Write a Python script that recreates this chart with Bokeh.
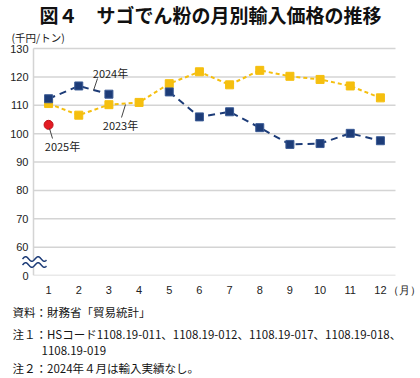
import math
from bokeh.plotting import figure
from bokeh.models import Label, Title, FixedTicker
from bokeh.embed import file_html
from bokeh.resources import INLINE

# ---------------- data ----------------
months = [1, 2, 3, 4, 5, 6, 7, 8, 9, 10, 11, 12]
month_labels = ["1", "2", "3", "4", "5", "6", "7", "8", "9", "10", "11", "12"]
price_2023 = [110.6, 106.5, 110.2, 111.0, 117.6, 121.8, 117.2, 122.3, 120.2, 119.1, 116.8, 112.6]
price_2024 = [112.3, 116.8, 113.9, float("nan"), 114.7, 105.9, 107.7, 102.1, 96.2, 96.5, 100.1, 97.5]
months_2025 = [1]
price_2025 = [103.1]
y_ticks = [50, 60, 70, 80, 90, 100, 110, 120, 130]
y_tick_labels = ["0", "60", "70", "80", "90", "100", "110", "120", "130"]
x_unit = "（月）"

NAVY = "#1d3c78"
YELLOW = "#f5bf0f"
RED = "#e31b23"
GRID = "#d4d4d4"
JP = "Noto Sans CJK JP"
NUM = "Liberation Sans"

# ---------------- layout ----------------
W, H = 420, 378
FL, FR, FT, FB = 6, 420, 0, 275       # frame edges (px)
AL, AR, AT = 33, 395, 48              # plotting area edges (px)
SX = (AR - AL) / 12.0                 # px per month
SY = (FB - AT) / 80.0                 # px per unit

x_start = 0.5 - (AL - FL) / SX
x_end = 12.5 + (FR - AR) / SX
y_start = 50
y_end = 130 + (AT - FT) / SY

def px(x):
    return 0.5 + (x - AL) / SX

def py(y):
    return 130 - (y - AT) / SY

p = figure(width=W, height=H, x_range=(x_start, x_end), y_range=(y_start, y_end),
           output_backend="svg", toolbar_location=None,
           min_border_left=FL, min_border_right=W - FR,
           min_border_top=FT, min_border_bottom=H - FB)
p.outline_line_color = None
p.background_fill_color = "white"
p.border_fill_color = "white"
p.xgrid.grid_line_color = None
p.ygrid.grid_line_color = None

unit_pos = 12.9
x_tick_map = {m: s for m, s in zip(months, month_labels)}
x_tick_map[unit_pos] = x_unit
p.yaxis.ticker = FixedTicker(ticks=y_ticks)
p.yaxis.major_label_overrides = {t: s for t, s in zip(y_ticks, y_tick_labels)}
p.xaxis.ticker = FixedTicker(ticks=months + [unit_pos])
p.xaxis.major_label_overrides = x_tick_map
for ax in (p.xaxis, p.yaxis):
    ax.axis_line_color = None
    ax.major_tick_line_color = None
    ax.minor_tick_line_color = None
    ax.major_tick_out = 0
    ax.minor_tick_out = 0
    ax.major_label_text_font = NUM
    ax.major_label_text_font_size = "11px"
    ax.major_label_text_color = "#222222"
p.yaxis.major_label_standoff = -(AL - 5 - FL)
p.xaxis.major_label_standoff = 8

# gridlines and the left axis line, at the tick values
p.segment(x0=[0.5] * len(y_ticks), x1=[12.5] * len(y_ticks), y0=y_ticks, y1=y_ticks,
          line_color=GRID, line_width=1.5)
p.segment(x0=[0.5], x1=[0.5], y0=[y_ticks[0]], y1=[y_ticks[-1]], line_color=GRID, line_width=1.5)

# ---------------- series ----------------
p.line(months, price_2023, line_color=YELLOW, line_width=2, line_dash="4 3")
p.scatter(months, price_2023, marker="square", size=8, fill_color=YELLOW, line_color=YELLOW)
p.line(months, price_2024, line_color=NAVY, line_width=2, line_dash="7 5")
p.scatter(months, price_2024, marker="square", size=8, fill_color=NAVY, line_color="#3a5a94")
p.scatter(months_2025, price_2025, marker="circle", size=9, fill_color=RED, line_color="#c01018")

# ---------------- leader lines ----------------
leaders = [((97, 78), (93, 90)), ((121, 117), (125, 104)), ((49, 128), (52, 138))]
p.segment(x0=[px(a[0]) for a, b in leaders], y0=[py(a[1]) for a, b in leaders],
          x1=[px(b[0]) for a, b in leaders], y1=[py(b[1]) for a, b in leaders],
          line_color="#444444", line_width=1)

def add_text(text, x, y, size, align="left", font=JP, style="normal", color="#222222"):
    p.add_layout(Label(x=px(x), y=py(y), text=text, text_font=font, text_font_size=size,
                       text_align=align, text_baseline="middle", text_font_style=style,
                       text_color=color))

add_text("2024年", 110, 72, "11px", "center")
add_text("2023年", 120, 124, "11px", "center")
add_text("2025年", 62, 145, "11px", "center")

# ---------------- axis break mark ----------------
wx = [22 + i * 0.5 for i in range(49)]
upper = [258.5 - 2.3 * math.sin(2 * math.pi * (x - 22) / 12.5) for x in wx]
lower = [u + 6 for u in upper]
p.patch([px(x) for x in wx] + [px(x) for x in wx[::-1]],
        [py(y) for y in upper] + [py(y) for y in lower[::-1]],
        fill_color="white", line_color=None)
for wave in (upper, lower):
    p.line([px(x) for x in wx], [py(y) for y in wave], line_color=NAVY, line_width=1.5)

# ---------------- texts ----------------
add_text("図４　サゴでん粉の月別輸入価格の推移", 210, 14, "19px", "center", style="bold", color="#111111")
add_text("(千円/トン)", 11, 37, "10.5px")

notes = [("資料：財務省「貿易統計」", 0, 5.5),
         ("注１：HSコード1108.19-011、1108.19-012、1108.19-017、1108.19-018、", 0, 1.5),
         ("1108.19-019", 29, 2.5),
         ("注２：2024年４月は輸入実績なし。", 0, 2.5)]
for text, off, so in notes:
    p.add_layout(Title(text=text, align="left", offset=12 - FL + off, standoff=so,
                       text_font=JP, text_font_size="11.5px", text_font_style="normal",
                       text_color="#151515"), "below")

open("out.html", "w").write(file_html(p, INLINE))
